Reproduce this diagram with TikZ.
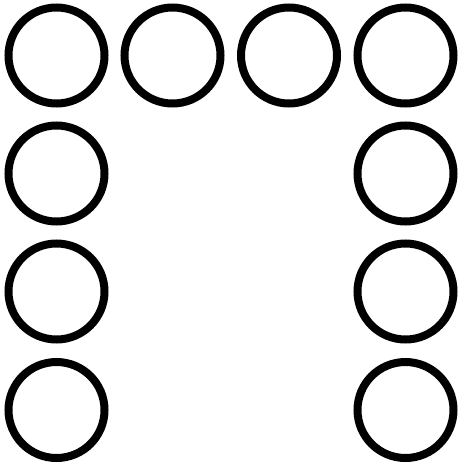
\documentclass[tikz,border=0pt]{standalone}
\begin{document}
\begin{tikzpicture}[x=1pt,y=-1pt,
  ring/.style={circle,draw=black,line width=8pt,minimum size=96pt,inner sep=0pt}]
\useasboundingbox[fill=white] (0,0) rectangle (459,466);
\node[ring] (t1) at (56.5,55.5) {};
\node[ring] (t2) at (172.5,55.5) {};
\node[ring] (t3) at (289,55.5) {};
\node[ring] (t4) at (405.5,55.5) {};
\node[ring] (l2) at (56.5,173.5) {};
\node[ring] (l3) at (56.5,291.5) {};
\node[ring] (l4) at (56.5,410) {};
\node[ring] (r2) at (405.5,173.5) {};
\node[ring] (r3) at (405.5,291.5) {};
\node[ring] (r4) at (405.5,410) {};
\end{tikzpicture}
\end{document}
